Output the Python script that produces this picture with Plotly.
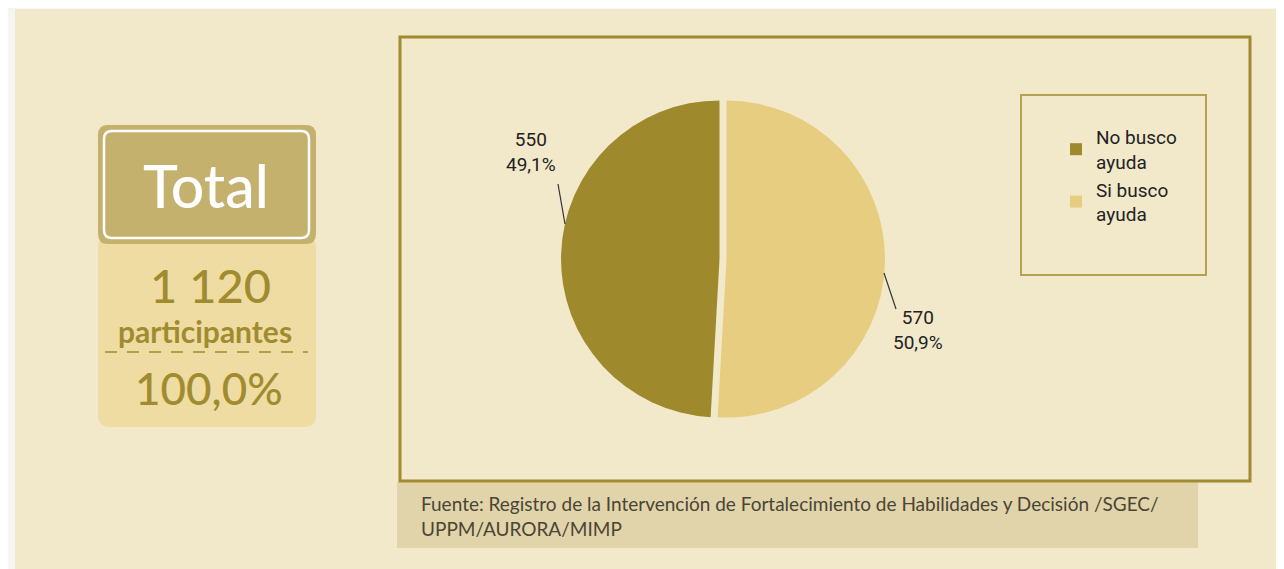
import plotly.graph_objects as go

# ---------------- data ----------------
categories = ["No busco<br>ayuda", "Si busco<br>ayuda"]
values = [550, 570]
slice_colors = ["#9e8a2d", "#e7cd80"]
total_label = "participantes"
source_text = ("Fuente: Registro de la Intervención de Fortalecimiento de Habilidades y Decisión /SGEC/<br>"
               "UPPM/AURORA/MIMP")

# ---------------- layout helpers ----------------
OFF = 8                      # page body margin
W, H = 1284 - OFF, 569 - OFF
def X(p):
    return (p - OFF) / W
def Y(p):
    return 1 - (p - OFF) / H

PANEL = "#f2e9cb"
OLIVE = "#a08c2e"
NARROW = "Liberation Sans Narrow, Arial Narrow, Roboto, Liberation Sans, sans-serif"
GEO = "Lato, Open Sans, sans-serif"

def rrect(x0, y0, x1, y1, r):
    pts = [
        ("M", [(x0 + r, y0)]), ("L", [(x1 - r, y0)]), ("Q", [(x1, y0), (x1, y0 + r)]),
        ("L", [(x1, y1 - r)]), ("Q", [(x1, y1), (x1 - r, y1)]), ("L", [(x0 + r, y1)]),
        ("Q", [(x0, y1), (x0, y1 - r)]), ("L", [(x0, y0 + r)]), ("Q", [(x0, y0), (x0 + r, y0)]),
    ]
    s = ""
    for cmd, ps in pts:
        s += cmd + " " + " ".join(f"{X(a):.5f},{Y(b):.5f}" for a, b in ps) + " "
    return s + "Z"

total = sum(values)
pcts = [v / total * 100 for v in values]

cx, cy, r0, pull = 723, 259, 158.5, 0.022
R = r0 * (1 + pull)

fig = go.Figure(go.Pie(
    labels=categories,
    values=values,
    sort=False,
    direction="clockwise",
    rotation=-360 * values[0] / total,
    pull=[pull, pull],
    marker=dict(colors=slice_colors, line=dict(width=0)),
    textinfo="none",
    hoverinfo="skip",
    domain=dict(x=[X(cx - R), X(cx + R)], y=[Y(cy + R), Y(cy - R)]),
))

shapes = [
    # main panel
    dict(type="rect", xref="paper", yref="paper", x0=X(15), x1=1.01, y0=-0.01, y1=Y(9),
         fillcolor=PANEL, line=dict(width=0), layer="below"),
    # source box
    dict(type="rect", xref="paper", yref="paper", x0=X(397), x1=X(1198), y0=Y(548), y1=Y(482),
         fillcolor="#e1d4aa", line=dict(width=0), layer="below"),
    # chart frame
    dict(type="rect", xref="paper", yref="paper", x0=X(400), x1=X(1250), y0=Y(481), y1=Y(37),
         line=dict(color=OLIVE, width=3), layer="below"),
    # legend box
    dict(type="rect", xref="paper", yref="paper", x0=X(1021), x1=X(1206), y0=Y(275), y1=Y(95),
         line=dict(color="#b3a251", width=2), layer="below"),
    # total boxes
    dict(type="path", xref="paper", yref="paper", path=rrect(98, 236, 316, 427, 12),
         fillcolor="#eedca3", line=dict(width=0), layer="below"),
    dict(type="path", xref="paper", yref="paper", path=rrect(98, 125, 316, 244, 10),
         fillcolor="#c5b16e", line=dict(width=0), layer="below"),
    dict(type="path", xref="paper", yref="paper", path=rrect(104, 131, 309, 238, 8),
         line=dict(color="white", width=2.5), layer="below"),
    dict(type="line", xref="paper", yref="paper", x0=X(105), x1=X(308), y0=Y(352), y1=Y(352),
         line=dict(color=OLIVE, width=1.5, dash="12px,10px")),
    # leader lines
    dict(type="line", xref="paper", yref="paper", x0=X(558), y0=Y(184), x1=X(565), y1=Y(224),
         line=dict(color="#333333", width=1.2)),
    dict(type="line", xref="paper", yref="paper", x0=X(884), y0=Y(273), x1=X(896), y1=Y(309),
         line=dict(color="#333333", width=1.2)),
]

def fmt_pct(p):
    return f"{p:.1f}%".replace(".", ",")

annotations = [
    dict(text="Total", x=X(206), y=Y(186), font=dict(family=GEO, size=59, color="white", weight=500)),
    dict(text=f"{total:,}".replace(",", " "), x=X(210), y=Y(285), font=dict(family=GEO, size=47, color=OLIVE, weight=500)),
    dict(text=f"<b>{total_label}</b>", x=X(205), y=Y(331), font=dict(family=GEO, size=30, color=OLIVE)),
    dict(text=fmt_pct(100.0), x=X(209), y=Y(388), font=dict(family=GEO, size=44, color=OLIVE, weight=500)),
    dict(text=f"{values[0]}<br>{fmt_pct(pcts[0])}", x=X(531), y=Y(152),
         font=dict(family=NARROW, size=19, color="#222222")),
    dict(text=f"{values[1]}<br>{fmt_pct(pcts[1])}", x=X(918), y=Y(330),
         font=dict(family=NARROW, size=19, color="#222222")),
    dict(text=source_text, x=X(419), y=Y(516), xanchor="left", align="left",
         font=dict(family=GEO, size=19, color="#4a4535")),
]
for a in annotations:
    a.setdefault("xref", "paper")
    a.setdefault("yref", "paper")
    a.setdefault("showarrow", False)
    a.setdefault("xanchor", "center")
    a.setdefault("yanchor", "middle")

fig.update_layout(
    width=W, height=H,
    margin=dict(l=0, r=0, t=0, b=0),
    paper_bgcolor="#f7f5ef",
    plot_bgcolor=PANEL,
    shapes=shapes,
    annotations=annotations,
    showlegend=True,
    legend=dict(x=X(1056), y=Y(118), xanchor="left", yanchor="top",
                bgcolor="rgba(0,0,0,0)", borderwidth=0,
                font=dict(family=NARROW, size=19, color="#222222")),
)

fig.write_html("out.html")
